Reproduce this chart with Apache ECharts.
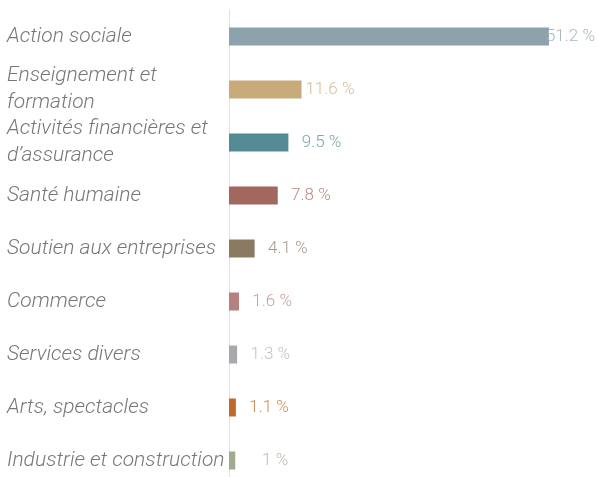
<!DOCTYPE html>
<html>
<head>
<meta charset="utf-8">
<script src="https://cdn.jsdelivr.net/npm/echarts@6/dist/echarts.min.js"></script>
<style>
  html, body { margin: 0; padding: 0; background: #fff; }
  #chart { width: 597px; height: 477px; }
</style>
</head>
<body>
<div id="chart"></div>
<script>
  // secteurs d'activité (du haut vers le bas)
  var categories = [
    'Action sociale',
    'Enseignement et\nformation',
    'Activités financières et\nd\u2019assurance',
    'Santé humaine',
    'Soutien aux entreprises',
    'Commerce',
    'Services divers',
    'Arts, spectacles',
    'Industrie et construction'
  ];
  var values = [51.2, 11.6, 9.5, 7.8, 4.1, 1.6, 1.3, 1.1, 1];
  var valueLabels = ['51.2 %', '11.6 %', '9.5 %', '7.8 %', '4.1 %', '1.6 %', '1.3 %', '1.1 %', '1 %'];
  var barColors = ['#8ca2ac', '#c8aa7b', '#538a93', '#a2675f', '#8a7a62', '#b38281', '#a9a9ad', '#c06a2a', '#9eab8d'];
  var labelColors = ['#a9b8bf', '#d5bd98', '#7ba6ad', '#ba8a84', '#a89b88', '#c6a2a1', '#c4c4c7', '#d48d55', '#b9c1ab'];

  var chart = echarts.init(document.getElementById('chart'));

  var maxVal = Math.max.apply(null, values);
  var seriesData = values.map(function (v, i) {
    return {
      value: v,
      itemStyle: { color: barColors[i] },
      label: {
        color: labelColors[i],
        // la plus grande barre : étiquette collée au bord
        distance: v === maxVal ? 46 : 53
      }
    };
  });

  chart.setOption({
    animation: false,
    grid: { left: 229, right: 48, top: 10, bottom: -10, outerBoundsMode: 'none' },
    xAxis: {
      type: 'value',
      min: 0,
      max: maxVal,
      show: false
    },
    yAxis: {
      type: 'category',
      inverse: true,
      data: categories,
      axisLine: { show: true, lineStyle: { color: '#e2e2e2', width: 1 } },
      axisTick: { show: false },
      axisLabel: {
        align: 'left',
        margin: 222,
        color: '#777777',
        fontFamily: 'Roboto',
        fontStyle: 'italic',
        fontWeight: 300,
        fontSize: 21,
        lineHeight: 27
      }
    },
    series: [{
      type: 'bar',
      data: seriesData,
      barWidth: 18,
      label: {
        show: true,
        position: 'right',
        align: 'right',
        fontFamily: 'Roboto',
        fontWeight: 300,
        fontSize: 17,
        formatter: function (p) { return valueLabels[p.dataIndex]; }
      }
    }]
  });
</script>
</body>
</html>
